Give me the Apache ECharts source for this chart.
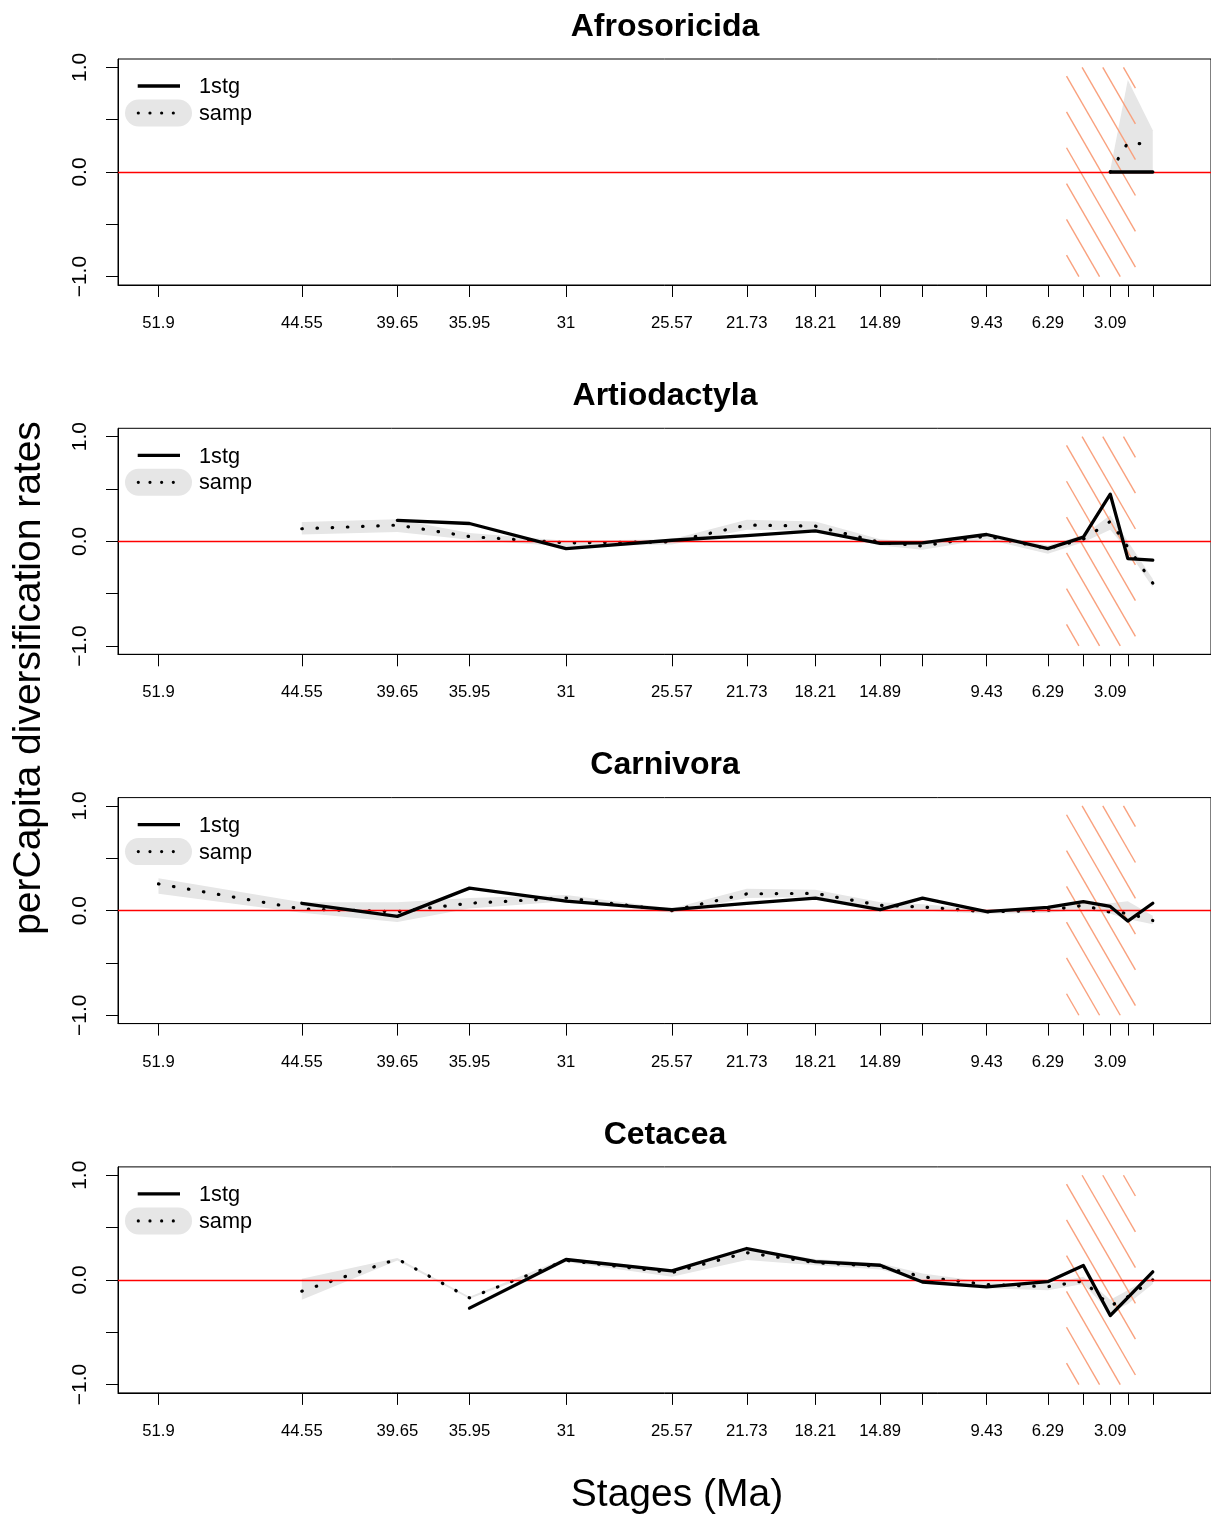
<!DOCTYPE html>
<html><head><meta charset="utf-8">
<script src="https://cdn.jsdelivr.net/npm/echarts@6/dist/echarts.min.js"></script>
<style>html,body{margin:0;padding:0;background:#fff}#c{width:1211px;height:1515px}</style>
</head><body><div id="c"></div>
<script>
// ---- data ----
const stages = [51.9, 44.55, 39.65, 35.95, 31, 25.57, 21.73, 18.21, 14.89, 12.72, 9.43, 6.29, 4.47, 3.09, 2.19, 0.91];
const labeledStages = [51.9, 44.55, 39.65, 35.95, 31, 25.57, 21.73, 18.21, 14.89, 9.43, 6.29, 3.09];
const yTicks = [-1, -0.5, 0, 0.5, 1];
const yLabelValues = [-1, 0, 1];
const hatchAge = [5.333, 1.8];
const hatchRate = [-1, 1];
const cladeNames = ['Afrosoricida', 'Artiodactyla', 'Carnivora', 'Cetacea'];

const afro_1stg = [null,null,null,null,null,null,null,null,null,null,null,null,null,0,0,0];
const afro_samp = [null,null,null,null,null,null,null,null,null,null,null,null,null,0.0,0.28,0.26];
const afro_lo   = [null,null,null,null,null,null,null,null,null,null,null,null,null,0,0,0];
const afro_hi   = [null,null,null,null,null,null,null,null,null,null,null,null,null,0.02,0.88,0.40];

const artio_1stg = [null,null,0.20,0.17,-0.07,0.01,0.055,0.10,-0.02,-0.015,0.065,-0.07,0.04,0.45,-0.165,-0.18];
const artio_samp = [null,0.12,0.155,0.045,-0.015,-0.005,0.155,0.145,-0.01,-0.045,0.05,-0.07,0.02,0.19,-0.055,-0.40];
const artio_lo   = [null,0.064,0.09,0.016,-0.05,-0.03,0.11,0.10,-0.04,-0.08,0.02,-0.12,-0.01,0.11,-0.09,-0.44];
const artio_hi   = [null,0.185,0.21,0.08,0.005,0.02,0.205,0.19,0.02,-0.01,0.08,-0.04,0.06,0.25,0.0,-0.36];

const carn_1stg = [null,0.07,-0.055,0.215,0.09,0.01,0.07,0.12,0.01,0.12,-0.01,0.03,0.085,0.04,-0.10,0.07];
const carn_samp = [0.255,0.015,-0.01,0.07,0.12,0.0,0.16,0.165,0.05,0.035,-0.012,0.003,0.05,-0.015,-0.025,-0.095];
const carn_lo   = [0.16,-0.02,-0.11,0.02,0.09,-0.02,0.12,0.13,0.02,0.0,-0.03,-0.02,0.01,-0.03,-0.08,-0.13];
const carn_hi   = [0.31,0.08,0.08,0.12,0.15,0.02,0.21,0.20,0.08,0.06,0.01,0.03,0.08,0.07,0.09,-0.05];

const ceta_1stg = [null,null,null,-0.27,0.195,0.087,0.30,0.175,0.14,-0.02,-0.067,-0.017,0.138,-0.34,-0.17,0.077];
const ceta_samp = [null,-0.108,0.20,-0.172,0.186,0.07,0.26,0.165,0.13,0.03,-0.045,-0.065,-0.01,-0.25,-0.16,0.0];
const ceta_lo   = [null,-0.19,0.185,-0.18,0.17,0.03,0.19,0.14,0.10,0.0,-0.08,-0.10,-0.04,-0.31,-0.23,-0.04];
const ceta_hi   = [null,0.01,0.21,-0.16,0.21,0.10,0.30,0.20,0.16,0.06,-0.02,-0.04,0.03,-0.19,-0.10,0.04];

const panels = [
  {name: cladeNames[0], s1: afro_1stg, samp: afro_samp, lo: afro_lo, hi: afro_hi},
  {name: cladeNames[1], s1: artio_1stg, samp: artio_samp, lo: artio_lo, hi: artio_hi},
  {name: cladeNames[2], s1: carn_1stg, samp: carn_samp, lo: carn_lo, hi: carn_hi},
  {name: cladeNames[3], s1: ceta_1stg, samp: ceta_samp, lo: ceta_lo, hi: ceta_hi}
];

// ---- layout ----
const FONT = "'Liberation Sans', Arial, Helvetica, sans-serif";
const GL = 118, GW = 1094, GT = 59, GH = 226, DY = 369.3;
const XMIN = -2.076, XMAX = 53.976, YMIN = -1.08, YMAX = 1.08;

const chart = echarts.init(document.getElementById('c'), null, {renderer: 'canvas'});
const grids = [], xAxes = [], yAxes = [], series = [], graphics = [];

function fmtY(v) { return (v < 0 ? '\u2212' : '') + Math.abs(v).toFixed(1); }

panels.forEach((p, i) => {
  const top = GT + DY * i;
  grids.push({left: GL, top: top, width: GW, height: GH, show: true, borderColor: '#000', borderWidth: 1, backgroundColor: 'transparent'});
  xAxes.push({
    gridIndex: i, type: 'value', min: XMIN, max: XMAX, inverse: true,
    axisLine: {show: true, onZero: false, lineStyle: {color: '#000', width: 1}},
    axisTick: {show: true, length: 12, customValues: stages, lineStyle: {color: '#000', width: 1}},
    axisLabel: {show: true, customValues: labeledStages, formatter: v => String(v), margin: 30,
      fontSize: 16.67, color: '#000', fontFamily: FONT},
    splitLine: {show: false}
  });
  yAxes.push({
    gridIndex: i, type: 'value', min: YMIN, max: YMAX,
    axisLine: {show: true, onZero: false, lineStyle: {color: '#000', width: 1}},
    axisTick: {show: true, length: 12, customValues: yTicks, lineStyle: {color: '#000', width: 1}},
    axisLabel: {show: true, customValues: yLabelValues, formatter: fmtY, rotate: 90, margin: 27,
      fontSize: 21, color: '#000', fontFamily: FONT},
    splitLine: {show: false}
  });

  // confidence band
  const bandRows = stages.map((s, j) => [s, p.lo[j], p.hi[j]]).filter(r => r[1] != null && r[2] != null);
  series.push({
    type: 'custom', xAxisIndex: i, yAxisIndex: i, z: 1, silent: true,
    data: bandRows.map(r => [r[0], r[1], r[2]]),
    renderItem: function (params, api) {
      if (params.dataIndex !== 0) return null;
      const up = bandRows.map(r => api.coord([r[0], r[2]]));
      const dn = bandRows.map(r => api.coord([r[0], r[1]])).reverse();
      return {type: 'polygon', shape: {points: up.concat(dn)}, style: {fill: '#E6E6E6', stroke: null}};
    }
  });

  // hatched interval
  series.push({
    type: 'custom', xAxisIndex: i, yAxisIndex: i, z: 2, silent: true,
    data: [[hatchAge[0], hatchRate[0], hatchAge[1], hatchRate[1]]],
    renderItem: function (params, api) {
      const a = api.coord([api.value(0), api.value(1)]);
      const b = api.coord([api.value(2), api.value(3)]);
      const x0 = Math.min(a[0], b[0]), x1 = Math.max(a[0], b[0]);
      const y0 = Math.min(a[1], b[1]), y1 = Math.max(a[1], b[1]);
      const W = x1 - x0, H = y1 - y0;
      const s = Math.sin(Math.PI / 3), c = Math.cos(Math.PI / 3);
      const step = 17.9, phase = 13.5;
      const children = [];
      for (let k = -40; k <= 40; k++) {
        const cc = phase + step * k;
        if (cc <= -c * H || cc >= s * W) continue;
        const ya = Math.max(0, -cc / c);
        const yb = Math.min(H, (s * W - cc) / c);
        if (yb <= ya) continue;
        const xa = (cc + c * ya) / s, xb = (cc + c * yb) / s;
        children.push({type: 'line', shape: {x1: x0 + xa, y1: y0 + ya, x2: x0 + xb, y2: y0 + yb},
          style: {stroke: '#F9A17E', lineWidth: 1.4}});
      }
      return {type: 'group', children: children};
    }
  });

  // zero line
  series.push({
    type: 'line', xAxisIndex: i, yAxisIndex: i, z: 3, data: [], silent: true,
    markLine: {silent: true, symbol: ['none', 'none'], label: {show: false}, animation: false,
      lineStyle: {color: '#FF0000', width: 1.3, type: 'solid'}, data: [{yAxis: 0}]}
  });

  // samp (dotted)
  series.push({
    type: 'line', xAxisIndex: i, yAxisIndex: i, z: 4, silent: true, symbol: 'none', showSymbol: false,
    connectNulls: false,
    data: stages.map((s, j) => [s, p.samp[j]]),
    lineStyle: {color: '#000', width: 3.2, type: [0.5, 14.7], cap: 'round'}
  });
  // 1stg (solid)
  series.push({
    type: 'line', xAxisIndex: i, yAxisIndex: i, z: 5, silent: true, symbol: 'none', showSymbol: false,
    connectNulls: false,
    data: stages.map((s, j) => [s, p.s1[j]]),
    lineStyle: {color: '#000', width: 3.3, cap: 'round', join: 'round'}
  });

  // title
  graphics.push({type: 'text', x: 665, y: 27 + DY * i, silent: true,
    style: {text: p.name, fontSize: 32, fontWeight: 'bold', fontFamily: FONT, fill: '#000', align: 'center', verticalAlign: 'middle'}});
  // legend
  const ly = DY * i;
  graphics.push({type: 'rect', silent: true, shape: {x: 125, y: 99.5 + ly, width: 67, height: 27, r: 13.5}, style: {fill: '#E6E6E6'}});
  graphics.push({type: 'line', silent: true, shape: {x1: 137.7, y1: 86 + ly, x2: 180, y2: 86 + ly}, style: {stroke: '#000', lineWidth: 3.3}});
  graphics.push({type: 'line', silent: true, shape: {x1: 138.3, y1: 113 + ly, x2: 175, y2: 113 + ly},
    style: {stroke: '#000', lineWidth: 3.2, lineDash: [0.01, 11.66], lineCap: 'round'}});
  graphics.push({type: 'text', x: 199, y: 87.5 + ly, silent: true, style: {text: '1stg', fontSize: 21.7, fontFamily: FONT, fill: '#000', align: 'left', verticalAlign: 'middle'}});
  graphics.push({type: 'text', x: 199, y: 114 + ly, silent: true, style: {text: 'samp', fontSize: 21.7, fontFamily: FONT, fill: '#000', align: 'left', verticalAlign: 'middle'}});
});

graphics.push({type: 'text', x: 29, y: 678, rotation: Math.PI / 2, silent: true,
  style: {text: 'perCapita diversification rates', fontSize: 39, fontFamily: FONT, fill: '#000', align: 'center', verticalAlign: 'middle'}});
graphics.push({type: 'text', x: 677, y: 1495, silent: true,
  style: {text: 'Stages (Ma)', fontSize: 39, fontFamily: FONT, fill: '#000', align: 'center', verticalAlign: 'middle'}});

chart.setOption({
  animation: false,
  backgroundColor: '#fff',
  grid: grids, xAxis: xAxes, yAxis: yAxes, series: series,
  graphic: {elements: graphics}
});
</script></body></html>
